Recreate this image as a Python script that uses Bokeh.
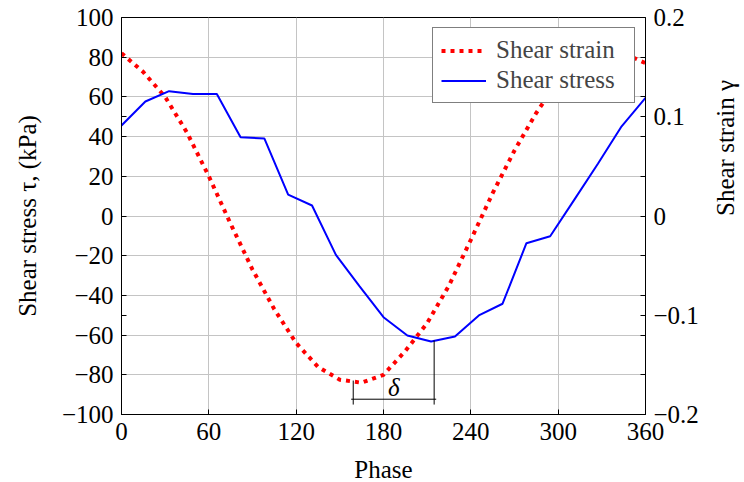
import math
from bokeh.plotting import figure
from bokeh.models import Range1d, LinearAxis, FixedTicker, Legend, LegendItem, Label
from bokeh.embed import file_html
from bokeh.resources import INLINE

# ---- data ----
strain_phase = [0, 15, 30, 45, 60, 75, 90, 105, 120, 135, 150, 165, 180,
                195, 210, 225, 240, 255, 270, 285, 300, 315, 330, 345, 360]
strain_gamma = [0.164, 0.145, 0.120, 0.084, 0.040, -0.008, -0.054, -0.094, -0.128,
                -0.152, -0.165, -0.168, -0.160, -0.136, -0.108, -0.070, -0.024,
                0.023, 0.066, 0.104, 0.136, 0.156, 0.165, 0.164, 0.154]

stress_phase = [0, 16.4, 32.7, 49.1, 65.5, 81.8, 98.2, 114.5, 130.9, 147.3, 163.6,
                180, 196.4, 212.7, 229.1, 245.5, 261.8, 278.2, 294.5, 310.9, 327.3,
                343.6, 360]
stress_kpa = [45.6, 57.7, 62.9, 61.5, 61.5, 39.7, 39.0, 10.8, 5.3, -19.6, -35.5,
              -51.0, -60.2, -63.2, -60.7, -50.1, -44.2, -13.7, -10.2, 8.0, 26.3,
              45.2, 59.5]

x_ticks = [0, 60, 120, 180, 240, 300, 360]
y_left_ticks = [-100, -80, -60, -40, -20, 0, 20, 40, 60, 80, 100]
y_right_ticks = [-0.2, -0.1, 0.0, 0.1, 0.2]

# phase lag marker (strain minimum -> stress minimum)
delta_phases = [159.2, 214.8]
delta_tops = [-82.9, -62.7]

FONT = "serif"
FS = "25px"


def minus(v, fmt):
    s = fmt.format(v)
    return s.replace("-", "\u2212")


p = figure(frame_width=524, frame_height=397,
           x_range=Range1d(0, 360), y_range=Range1d(-100, 100),
           output_backend="svg", toolbar_location=None,
           min_border_left=121, min_border_top=17, min_border_bottom=10,
           min_border_right=10, background_fill_color="white",
           border_fill_color="white")
p.extra_y_ranges = {"strain": Range1d(-0.2, 0.2)}
p.outline_line_color = "black"
p.outline_line_width = 1

# grid
p.xgrid.ticker = FixedTicker(ticks=x_ticks)
p.ygrid.ticker = FixedTicker(ticks=y_left_ticks)
for g in (p.xgrid, p.ygrid):
    g.grid_line_color = "#c4c4c4"
    g.grid_line_width = 1

# bottom axis
xa = p.xaxis[0]
xa.ticker = FixedTicker(ticks=x_ticks, minor_ticks=[])
xa.axis_label = "Phase"

# left axis
ya = p.yaxis[0]
ya.ticker = FixedTicker(ticks=y_left_ticks, minor_ticks=[-50, 50])
ya.major_label_overrides = {float(v): minus(v, "{:d}") for v in y_left_ticks}
ya.axis_label = "Shear stress \u03c4, (kPa)"

# right axis
ra = LinearAxis(y_range_name="strain",
                ticker=FixedTicker(ticks=y_right_ticks,
                                   minor_ticks=[-0.16, -0.12, -0.08, -0.04, 0.04, 0.08, 0.12, 0.16]))
ra.major_label_overrides = {v: ("0" if v == 0 else minus(v, "{:.1f}")) for v in y_right_ticks}
ra.axis_label = "Shear strain \u03b3"
p.add_layout(ra, "right")

for ax in (xa, ya, ra):
    ax.axis_line_color = "black"
    ax.axis_line_width = 1
    ax.major_tick_in = 5
    ax.major_tick_out = 0
    ax.minor_tick_in = 5
    ax.minor_tick_out = 0
    ax.major_tick_line_color = "black"
    ax.minor_tick_line_color = "black"
    ax.major_label_text_font = FONT
    ax.major_label_text_font_size = FS
    ax.major_label_text_color = "black"
    ax.axis_label_text_font = FONT
    ax.axis_label_text_font_size = FS
    ax.axis_label_text_font_style = "normal"
    ax.axis_label_text_color = "black"
    ax.major_label_standoff = 8

xa.major_label_standoff = 8
xa.axis_label_standoff = 13
ya.axis_label_standoff = 18
ra.axis_label_standoff = 24
ra.axis_label_orientation = math.pi / 2

# series
r_strain = p.line(strain_phase, strain_gamma, y_range_name="strain",
                  line_color="#ff0000", line_width=4, line_dash="4 5",
                  line_cap="butt")
r_stress = p.line(stress_phase, stress_kpa, line_color="#0000ff", line_width=2)

# delta marker
base_y = -95
bar_y = -92.3
p.segment(x0=delta_phases, y0=delta_tops, x1=delta_phases, y1=[base_y, base_y],
          line_color="black", line_width=1)
p.segment(x0=[delta_phases[0] - 1.4], y0=[bar_y], x1=[delta_phases[1] + 1.4], y1=[bar_y],
          line_color="black", line_width=1)
p.add_layout(Label(x=(delta_phases[0] + delta_phases[1]) / 2, y=-86.2, text="\u03b4",
                   text_align="center", text_baseline="middle", text_font=FONT,
                   text_font_style="italic", text_font_size=FS, text_color="black"))

legend = Legend(items=[LegendItem(label="Shear strain", renderers=[r_strain]),
                       LegendItem(label="Shear stress", renderers=[r_stress])],
                location="top_right", margin=10, padding=8, spacing=2,
                glyph_width=45, glyph_height=27, label_height=27, label_width=130,
                label_standoff=10, label_text_font=FONT, label_text_font_size=FS,
                border_line_color="black", border_line_width=1,
                background_fill_color="white", background_fill_alpha=1.0)
p.add_layout(legend)

open("out.html", "w").write(file_html(p, INLINE))
